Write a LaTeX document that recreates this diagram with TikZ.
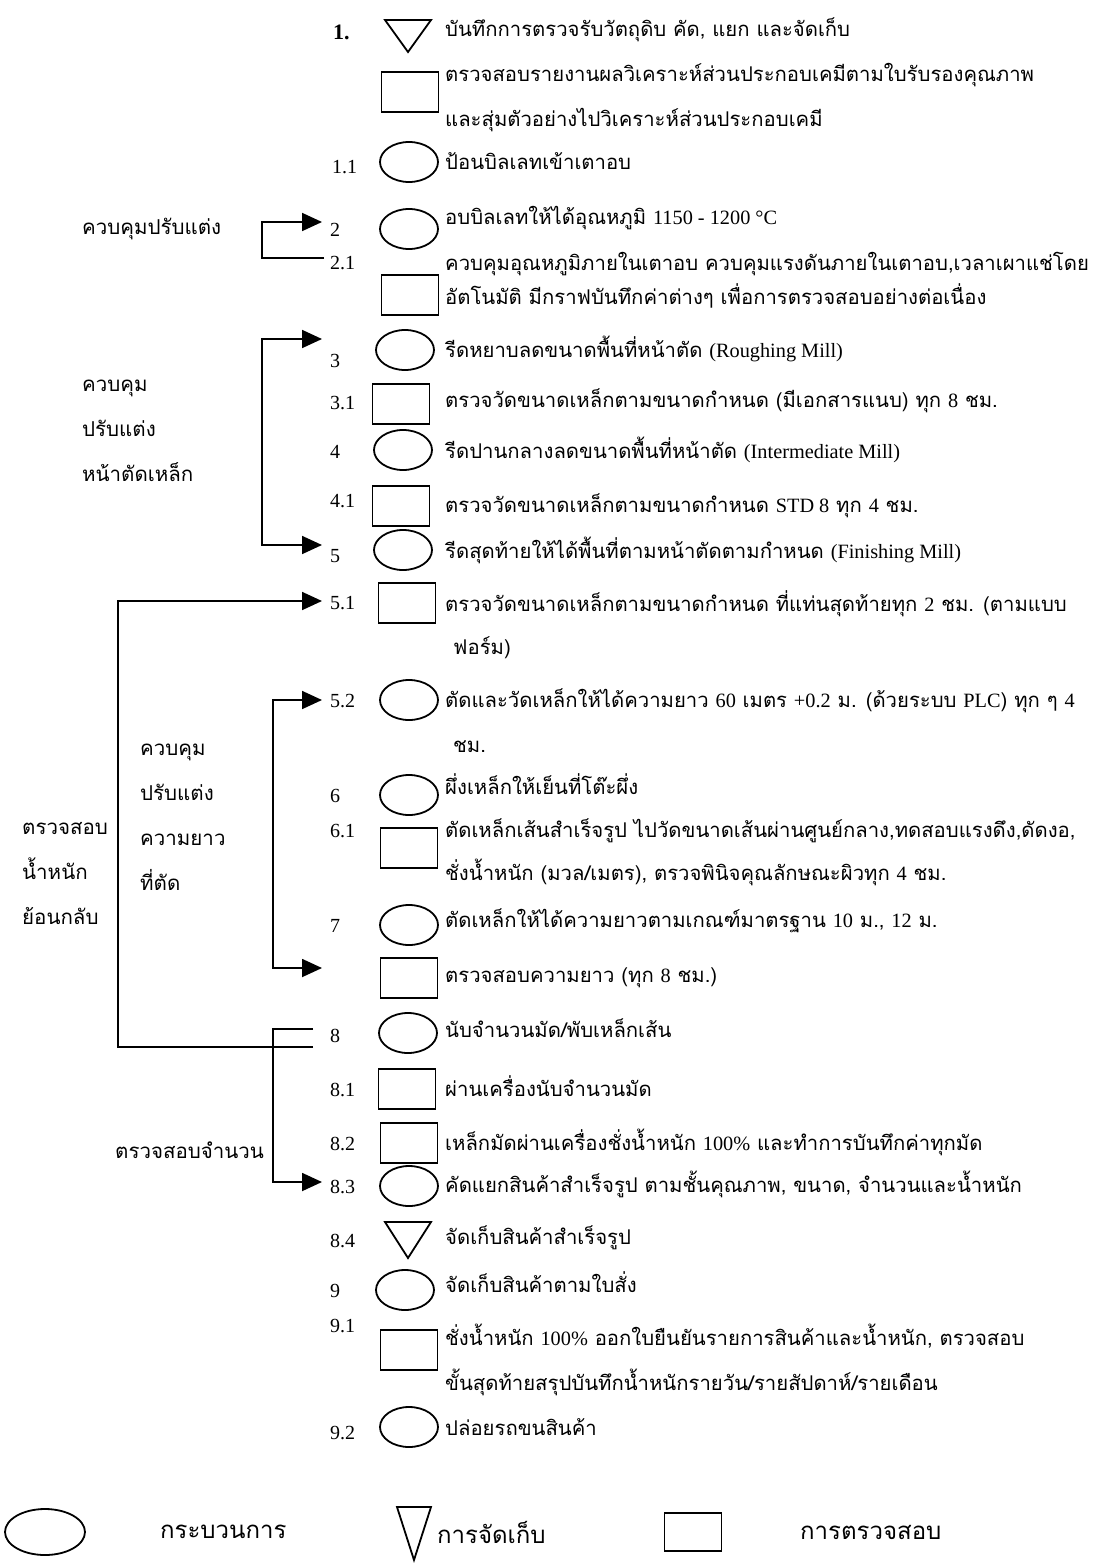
\documentclass[tikz,border=0pt]{standalone}
\usepackage{fontspec}
\setmainfont{Liberation Serif}
\newfontfamily\thaifont[Script=Thai]{Loma}
\usetikzlibrary{shapes.geometric,arrows.meta}
\newcommand\E[1]{{\rmfamily #1}}
\begin{document}
\begin{tikzpicture}[x=1pt,y=-1pt,
  shp/.style={draw,line width=1.8pt},
  proc/.style={shp,ellipse,minimum width=58pt,minimum height=40pt,inner sep=0pt},
  insp/.style={shp,rectangle,minimum width=57pt,minimum height=40pt,inner sep=0pt},
  num/.style={anchor=base west,inner sep=0pt,font=\rmfamily\fontsize{20}{20}\selectfont},
  desc/.style={anchor=base west,inner sep=0pt,font=\thaifont\fontsize{20.3}{24}\selectfont},
  side/.style={anchor=west,inner sep=0pt,align=left,font=\thaifont\fontsize{20.5}{45}\selectfont},
  leg/.style={anchor=west,inner sep=0pt,font=\thaifont\fontsize{24}{24}\selectfont},
  conn/.style={line width=1.8pt},
  arr/.style={conn,-{Triangle[length=20pt,width=18pt]}},
  arrb/.style={conn,{Triangle[length=20pt,width=18pt]}-{Triangle[length=20pt,width=18pt]}},
]
\useasboundingbox (0,0) rectangle (1095,1565);

% ---------- number labels ----------
\node[num,font=\rmfamily\bfseries\fontsize{22}{22}\selectfont] (n1) at (333,40) {1.};
\node[num] (n11) at (332,174) {1.1};
\node[num] (n2) at (330,236) {2};
\node[num] (n21) at (330,269) {2.1};
\node[num] (n3) at (330,367) {3};
\node[num] (n31) at (330,409) {3.1};
\node[num] (n4) at (330,458) {4};
\node[num] (n41) at (330,507) {4.1};
\node[num] (n5) at (330,562) {5};
\node[num] (n51) at (330,609) {5.1};
\node[num] (n52) at (330,707) {5.2};
\node[num] (n6) at (330,802) {6};
\node[num] (n61) at (330,837) {6.1};
\node[num] (n7) at (330,932) {7};
\node[num] (n8) at (330,1042) {8};
\node[num] (n81) at (330,1096) {8.1};
\node[num] (n82) at (330,1150) {8.2};
\node[num] (n83) at (330,1193) {8.3};
\node[num] (n84) at (330,1247) {8.4};
\node[num] (n9) at (330,1297) {9};
\node[num] (n91) at (330,1332) {9.1};
\node[num] (n92) at (330,1439) {9.2};

% ---------- symbols ----------
\coordinate (t1) at (408,36);
\draw[shp,line join=miter] (385,20) -- (431,20) -- (408,52) -- cycle;
\node[insp] (b0) at (410,92) {};
\node[proc] (e11) at (409,162) {};
\node[proc] (e2) at (409,229) {};
\node[insp] (b21) at (410,295) {};
\node[proc] (e3) at (405,350) {};
\node[insp] (b31) at (401,404) {};
\node[proc] (e4) at (403,450) {};
\node[insp] (b41) at (401,506) {};
\node[proc] (e5) at (403,550) {};
\node[insp] (b51) at (407,603) {};
\node[proc] (e52) at (409,700) {};
\node[proc] (e6) at (409,795) {};
\node[insp] (b61) at (409,848) {};
\node[proc] (e7) at (409,925) {};
\node[insp] (b78) at (409,978) {};
\node[proc] (e8) at (408,1033) {};
\node[insp] (b81) at (407,1089) {};
\node[insp] (b82) at (409,1143) {};
\node[proc] (e83) at (409,1186) {};
\coordinate (t84) at (408,1240);
\draw[shp,line join=miter] (385,1222) -- (431,1222) -- (408,1258) -- cycle;
\node[proc] (e9) at (405,1290) {};
\node[insp] (b91) at (409,1350) {};
\node[proc] (e92) at (409,1427) {};

% ---------- descriptions ----------
\node[desc] (d1) at (445,37) {บันทึกการตรวจรับวัตถุดิบ คัด, แยก และจัดเก็บ};
\node[desc] (d0a) at (445,82) {ตรวจสอบรายงานผลวิเคราะห์ส่วนประกอบเคมีตามใบรับรองคุณภาพ};
\node[desc] (d0b) at (445,127) {และสุ่มตัวอย่างไปวิเคราะห์ส่วนประกอบเคมี};
\node[desc] (d11) at (445,170) {ป้อนบิลเลทเข้าเตาอบ};
\node[desc] (d2) at (445,224) {อบบิลเลทให้ได้อุณหภูมิ \E{1150 - 1200 °C}};
\node[desc] (d21a) at (445,270) {ควบคุมอุณหภูมิภายในเตาอบ ควบคุมแรงดันภายในเตาอบ,เวลาเผาแช่โดย};
\node[desc] (d21b) at (445,304) {อัตโนมัติ มีกราฟบันทึกค่าต่างๆ เพื่อการตรวจสอบอย่างต่อเนื่อง};
\node[desc] (d3) at (445,357) {รีดหยาบลดขนาดพื้นที่หน้าตัด \E{(Roughing Mill)}};
\node[desc] (d31) at (445,407) {ตรวจวัดขนาดเหล็กตามขนาดกำหนด (มีเอกสารแนบ) ทุก \E{8} ชม.};
\node[desc] (d4) at (445,458) {รีดปานกลางลดขนาดพื้นที่หน้าตัด \E{(Intermediate Mill)}};
\node[desc] (d41) at (445,512) {ตรวจวัดขนาดเหล็กตามขนาดกำหนด \E{STD 8} ทุก \E{4} ชม.};
\node[desc] (d5) at (445,558) {รีดสุดท้ายให้ได้พื้นที่ตามหน้าตัดตามกำหนด \E{(Finishing Mill)}};
\node[desc] (d51a) at (445,611) {ตรวจวัดขนาดเหล็กตามขนาดกำหนด ที่แท่นสุดท้ายทุก \E{2} ชม. (ตามแบบ};
\node[desc] (d51b) at (453,654) {ฟอร์ม)};
\node[desc] (d52a) at (445,707) {ตัดและวัดเหล็กให้ได้ความยาว \E{60} เมตร \E{+0.2} ม. (ด้วยระบบ \E{PLC}) ทุก ๆ \E{4}};
\node[desc] (d52b) at (453,752) {ชม.};
\node[desc] (d6) at (445,794) {ผึ่งเหล็กให้เย็นที่โต๊ะผึ่ง};
\node[desc] (d61a) at (445,837) {ตัดเหล็กเส้นสำเร็จรูป ไปวัดขนาดเส้นผ่านศูนย์กลาง,ทดสอบแรงดึง,ดัดงอ,};
\node[desc] (d61b) at (445,880) {ชั่งน้ำหนัก (มวล/เมตร), ตรวจพินิจคุณลักษณะผิวทุก \E{4} ชม.};
\node[desc] (d7) at (445,927) {ตัดเหล็กให้ได้ความยาวตามเกณฑ์มาตรฐาน \E{10} ม., \E{12} ม.};
\node[desc] (d78) at (445,982) {ตรวจสอบความยาว (ทุก \E{8} ชม.)};
\node[desc] (d8) at (445,1037) {นับจำนวนมัด/พับเหล็กเส้น};
\node[desc] (d81) at (445,1096) {ผ่านเครื่องนับจำนวนมัด};
\node[desc] (d82) at (445,1150) {เหล็กมัดผ่านเครื่องชั่งน้ำหนัก \E{100\%} และทำการบันทึกค่าทุกมัด};
\node[desc] (d83) at (445,1192) {คัดแยกสินค้าสำเร็จรูป ตามชั้นคุณภาพ, ขนาด, จำนวนและน้ำหนัก};
\node[desc] (d84) at (445,1244) {จัดเก็บสินค้าสำเร็จรูป};
\node[desc] (d9) at (445,1292) {จัดเก็บสินค้าตามใบสั่ง};
\node[desc] (d91a) at (445,1345) {ชั่งน้ำหนัก \E{100\%} ออกใบยืนยันรายการสินค้าและน้ำหนัก, ตรวจสอบ};
\node[desc] (d91b) at (445,1390) {ขั้นสุดท้ายสรุปบันทึกน้ำหนักรายวัน/รายสัปดาห์/รายเดือน};
\node[desc] (d92) at (445,1435) {ปล่อยรถขนสินค้า};

% ---------- side labels ----------
\node[side] (sA) at (82,229) {ควบคุมปรับแต่ง};
\node[side] (sB) at (82,431) {ควบคุม\\ปรับแต่ง\\หน้าตัดเหล็ก};
\node[side] (sD) at (140,817) {ควบคุม\\ปรับแต่ง\\ความยาว\\ที่ตัด};
\node[side] (sC) at (22,873) {ตรวจสอบ\\น้ำหนัก\\ย้อนกลับ};
\node[side] (sE) at (115,1150) {ตรวจสอบจำนวน};

% ---------- connector coordinates ----------
\coordinate (p2) at (322,222);
\coordinate (p21) at (324,258);
\coordinate (p3) at (322,339);
\coordinate (p5) at (322,545);
\coordinate (p51) at (322,601);
\coordinate (p52) at (322,700);
\coordinate (p78) at (322,968);
\coordinate (p8hi) at (313,1029);
\coordinate (p8lo) at (313,1047);
\coordinate (p83) at (322,1182);
\coordinate (kA) at (262,240);
\coordinate (kB) at (262,440);
\coordinate (kC) at (118,800);
\coordinate (kD) at (273,830);
\coordinate (kE) at (273,1100);

% ---------- connectors ----------
\draw[arr] (p21) -| (kA) |- (p2);
\draw[arrb] (p3) -| (kB) |- (p5);
\draw[arr] (p8lo) -| (kC) |- (p51);
\draw[arrb] (p52) -| (kD) |- (p78);
\draw[arr] (p8hi) -| (kE) |- (p83);

% ---------- legend ----------
\node[proc,minimum width=80pt,minimum height=46pt] (lp) at (45,1532) {};
\node[leg] (lpt) at (160,1532) {กระบวนการ};
\coordinate (ls) at (414,1525);
\draw[shp,line join=miter] (397,1507) -- (431,1507) -- (414,1560) -- cycle;
\node[leg] (lst) at (437,1532) {การจัดเก็บ};
\node[insp,minimum width=57pt,minimum height=38pt] (li) at (693,1532) {};
\node[leg] (lit) at (800,1532) {การตรวจสอบ};
\end{tikzpicture}
\end{document}
